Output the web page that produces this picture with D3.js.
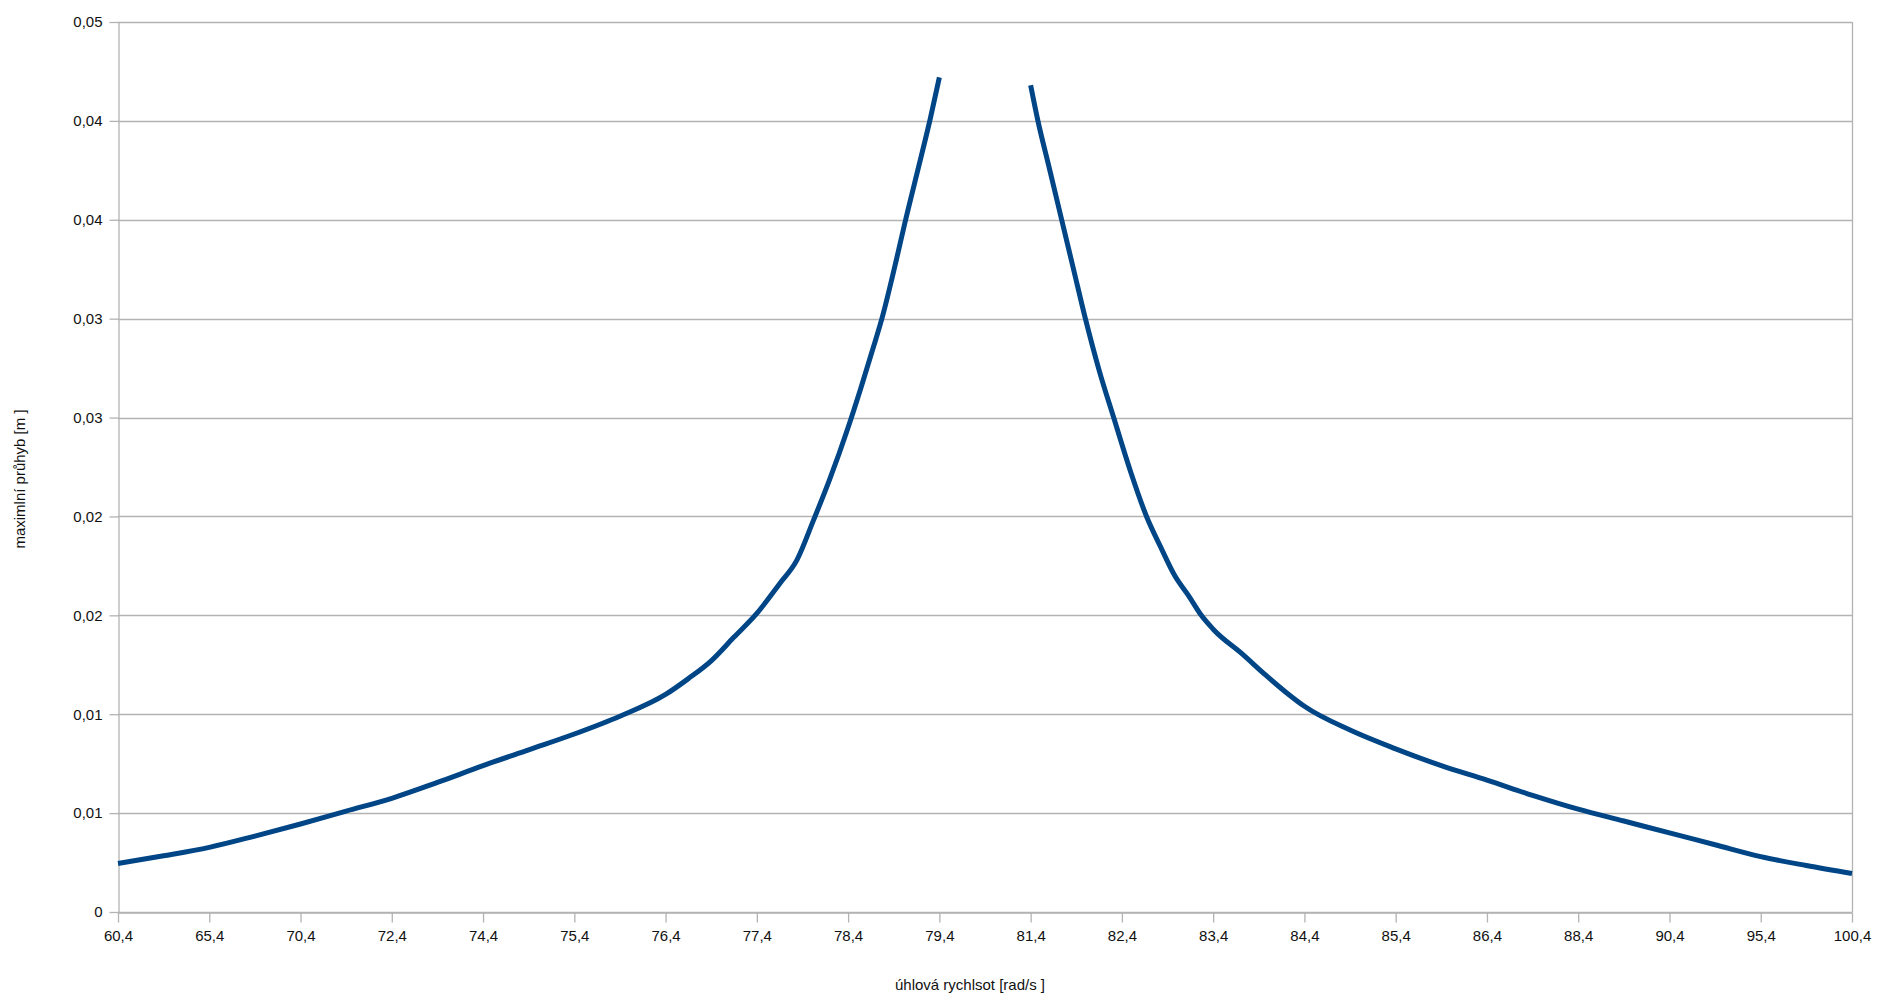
<!DOCTYPE html>
<html>
<head>
<meta charset="utf-8">
<script src="https://cdn.jsdelivr.net/npm/d3@7"></script>
<style>
  html, body { margin: 0; padding: 0; background: #fff; }
  svg { display: block; }
  text { font-family: "Liberation Sans", Arial, sans-serif; }
</style>
</head>
<body>
<svg id="chart" width="1878" height="998"></svg>
<script>
// ---- data (category index along the x axis, value in metres) ----
const xTickLabels = ["60,4","65,4","70,4","72,4","74,4","75,4","76,4","77,4","78,4","79,4",
                     "81,4","82,4","83,4","84,4","85,4","86,4","88,4","90,4","95,4","100,4"];
const yTickValues = [0, 0.005, 0.01, 0.015, 0.02, 0.025, 0.03, 0.035, 0.04, 0.045];
const yTickLabels = ["0","0,01","0,01","0,02","0,02","0,03","0,03","0,04","0,04","0,05"];

const leftIndex  = [0, 0.5, 1, 1.5, 2, 2.5, 3, 3.5, 4, 4.5, 5, 5.5, 6, 6.25, 6.5, 6.75,
                    7, 7.25, 7.44, 7.62, 7.8, 8, 8.14, 8.28, 8.37, 8.53, 8.62, 8.79, 8.9, 9];
const leftValues = [0.00245, 0.00284, 0.00327, 0.00384, 0.00445, 0.0051, 0.00575, 0.00655,
                    0.0074, 0.0082, 0.0090, 0.0099, 0.0110, 0.0118, 0.0127, 0.0139,
                    0.0151, 0.0166, 0.0178, 0.0198, 0.0219, 0.0245, 0.0265, 0.0286, 0.0300,
                    0.0330, 0.0348, 0.0380, 0.0401, 0.0422];

const rightIndex  = [10, 10.08, 10.2, 10.34, 10.47, 10.6, 10.75, 10.91, 11.1, 11.27, 11.42,
                     11.58, 11.73, 11.87, 12, 12.33, 12.57, 12.8, 13, 13.5, 14, 14.5, 15,
                     15.5, 16, 16.5, 17, 17.5, 18, 18.5, 19];
const rightValues = [0.0418, 0.0400, 0.0377, 0.0350, 0.0325, 0.0300, 0.0274, 0.0250, 0.0222,
                     0.0200, 0.0185, 0.0170, 0.0160, 0.0150, 0.0143, 0.0130, 0.0120, 0.0111,
                     0.0104, 0.0092, 0.00825, 0.0074, 0.00667, 0.0059, 0.0052, 0.0046, 0.0040,
                     0.0034, 0.0028, 0.00235, 0.00195];

const xTitle = "úhlová rychlsot [rad/s ]";
const yTitle = "maximlní průhyb [m ]";

// ---- layout ----
const svg = d3.select("#chart");
const margin = { left: 118, right: 26, top: 22, bottom: 86 };
const W = 1878, H = 998;
const x = d3.scaleLinear().domain([0, xTickLabels.length - 1]).range([margin.left, W - margin.right]);
const y = d3.scaleLinear().domain([0, 0.045]).range([H - margin.bottom, margin.top]);
const gridColor = "#b3b3b3";

svg.append("rect").attr("width", W).attr("height", H).attr("fill", "#fff");

// gridlines
svg.append("g").selectAll("line").data(yTickValues).join("line")
  .attr("x1", x.range()[0]).attr("x2", x.range()[1])
  .attr("y1", d => Math.round(y(d)) + 0.5).attr("y2", d => Math.round(y(d)) + 0.5)
  .attr("stroke", gridColor).attr("stroke-width", 1.3);

// right border
svg.append("line")
  .attr("x1", Math.round(x.range()[1]) + 0.5).attr("x2", Math.round(x.range()[1]) + 0.5)
  .attr("y1", y.range()[1]).attr("y2", y.range()[0])
  .attr("stroke", gridColor).attr("stroke-width", 1.3);

// y axis
const yAxis = svg.append("g")
  .attr("transform", `translate(${Math.round(x.range()[0]) + 0.5},0)`)
  .call(d3.axisLeft(y).tickValues(yTickValues).tickFormat((d, i) => yTickLabels[i])
        .tickSize(9).tickSizeOuter(0).tickPadding(7));
yAxis.select(".domain").attr("stroke", gridColor).attr("stroke-width", 1.3);
yAxis.selectAll(".tick line").attr("stroke", gridColor).attr("stroke-width", 1.3);
yAxis.selectAll(".tick text").attr("font-size", 15).attr("fill", "#111")
  .attr("font-family", "'Liberation Sans', Arial, sans-serif");

// x axis
const xAxis = svg.append("g")
  .attr("transform", `translate(0,${Math.round(y.range()[0]) + 0.5})`)
  .call(d3.axisBottom(x).tickValues(d3.range(xTickLabels.length)).tickFormat(i => xTickLabels[i])
        .tickSize(10).tickSizeOuter(0).tickPadding(8));
xAxis.select(".domain").attr("stroke", gridColor).attr("stroke-width", 1.3);
xAxis.selectAll(".tick line").attr("stroke", gridColor).attr("stroke-width", 1.3);
xAxis.selectAll(".tick text").attr("font-size", 15).attr("fill", "#111")
  .attr("font-family", "'Liberation Sans', Arial, sans-serif");

// curves
const line = d3.line().x(d => x(d[0])).y(d => y(d[1])).curve(d3.curveMonotoneX);
const leftData = leftIndex.map((v, i) => [v, leftValues[i]]);
const rightData = rightIndex.map((v, i) => [v, rightValues[i]]);
[leftData, rightData].forEach(data => {
  svg.append("path").datum(data).attr("d", line)
    .attr("fill", "none").attr("stroke", "#004586").attr("stroke-width", 5)
    .attr("stroke-linejoin", "round").attr("stroke-linecap", "butt");
});

// axis titles
svg.append("text")
  .attr("x", (x.range()[0] + x.range()[1]) / 2 - 15).attr("y", 990)
  .attr("text-anchor", "middle").attr("font-size", 15).attr("fill", "#111")
  .text(xTitle);
svg.append("text")
  .attr("transform", `translate(25,${(y.range()[0] + y.range()[1]) / 2 + 12}) rotate(-90)`)
  .attr("text-anchor", "middle").attr("font-size", 15).attr("fill", "#111")
  .text(yTitle);
</script>
</body>
</html>
